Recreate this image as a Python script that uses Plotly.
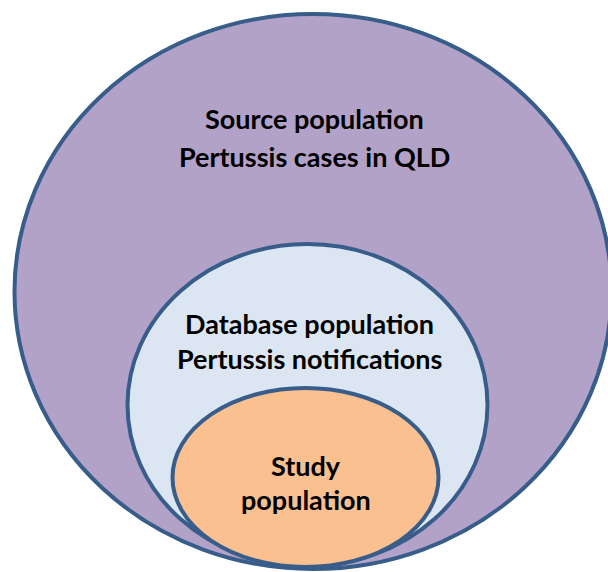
import plotly.graph_objects as go

# Nested population groups, outermost first
groups = ["Source", "Database", "Study"]
centre_x = [313, 307.5, 305.5]
centre_y = [291.5, 405, 477.5]
radius_x = [298.5, 180, 133]
radius_y = [277.5, 161, 89.5]
fills = ["#B3A2C7", "#DCE6F2", "#FAC090"]

# Text lines inside each group and their vertical positions
label_lines = [
    ["Source population", "Pertussis cases in QLD"],
    ["Database population", "Pertussis notifications"],
    ["Study", "population"],
]
label_x = [314, 309, 306]
label_y = [[118, 156], [323, 358], [465, 499]]

fig = go.Figure()

for i, g in enumerate(groups):
    fig.add_shape(
        type="circle",
        xref="x",
        yref="y",
        x0=centre_x[i] - radius_x[i],
        x1=centre_x[i] + radius_x[i],
        y0=centre_y[i] - radius_y[i],
        y1=centre_y[i] + radius_y[i],
        fillcolor=fills[i],
        line=dict(color="#385D8A", width=4),
        layer="below",
    )
    for line, y in zip(label_lines[i], label_y[i]):
        fig.add_annotation(
            x=label_x[i],
            y=y,
            text="<b>" + line + "</b>",
            showarrow=False,
            font=dict(family="Lato", size=27, color="black"),
            xanchor="center",
            yanchor="middle",
        )

fig.update_xaxes(range=[0, 608], visible=False)
fig.update_yaxes(range=[572, 0], visible=False)
fig.update_layout(
    width=608,
    height=572,
    margin=dict(l=0, r=0, t=0, b=0),
    paper_bgcolor="white",
    plot_bgcolor="white",
    showlegend=False,
)

# drop the default page margin so the figure sits at the window corner
fig.write_html(
    "out.html",
    config={"displayModeBar": False},
    post_script="document.body.style.margin='0';document.body.style.overflow='hidden';",
)
